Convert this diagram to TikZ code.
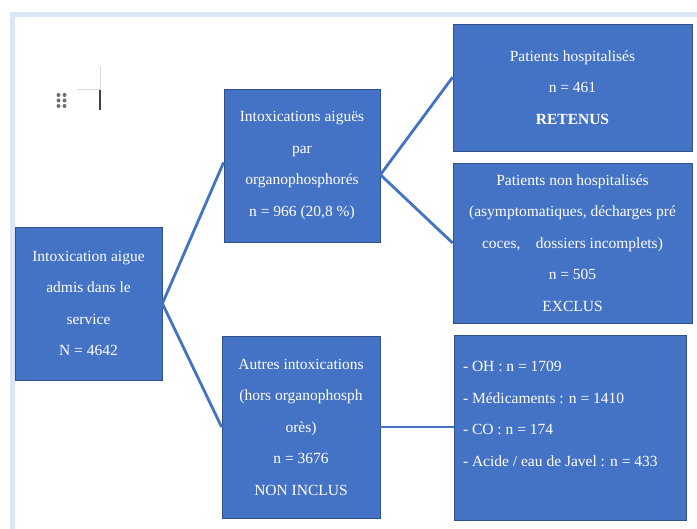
\documentclass[tikz,border=0pt]{standalone}
\usepackage{fontspec}
\setmainfont{Liberation Serif}
\usepackage{xcolor}
\usepackage{tikz}
\usetikzlibrary{positioning, calc}
\definecolor{boxfill}{HTML}{4472C4}
\definecolor{boxline}{HTML}{2F528F}
\definecolor{framebg}{HTML}{DAE5F7}
\definecolor{handle}{HTML}{6E6E6E}
\tikzset{
  flow box/.style={
    draw=boxline,
    line width=0.8pt,
    fill=boxfill,
    text=white,
    font=\fontsize{15.5}{31.5}\selectfont,
    align=center,
    inner sep=0pt
  },
  flow link/.style={
    line width=2.8pt,
    color=boxfill
  }
}

\begin{document}
\begin{tikzpicture}[x=1pt, y=-1pt]
  \useasboundingbox (0,0) rectangle (697,529);
  \fill[white] (0,0) rectangle (697,529);

  % Frame
  \fill[framebg] (10,12) rectangle (697,17);
  \fill[framebg] (10,12) rectangle (15,529);

  % Handle
  \foreach \i in {0,1} {
    \foreach \j in {0,1,2} {
      \fill[handle] (58.5+6*\i, 95+5.5*\j) circle (2pt);
    }
  }
  \draw[black!15, line width=1pt] (77,90) -- (100,90);
  \draw[black!15, line width=1pt] (100,67) -- (100,90);
  \draw[black!75, line width=1.6pt] (100,90) -- (100,110);

  % Boxes
  \node[flow box, minimum width=147pt, minimum height=153pt] (root) at (88.5,303.5)
    {Intoxication aigue\\admis dans le\\service\\N = 4642};
  \node[flow box, minimum width=156pt, minimum height=153pt] (orgphos) at (302,165.5)
    {Intoxications aiguës\\par\\organophosphorés\\n = 966 (20,8 \%)};
  \node[flow box, minimum width=158pt, minimum height=182pt] (autres) at (301,427)
    {Autres intoxications\\(hors organophosph\\orès)\\n = 3676\\NON INCLUS};
  \node[flow box, minimum width=239pt, minimum height=127pt] (hosp) at (572.5,87.5)
    {Patients hospitalisés\\n = 461\\\textbf{RETENUS}};
  \node[flow box, minimum width=239pt, minimum height=160pt] (nonhosp) at (572.5,243)
    {Patients non hospitalisés\\(asymptomatiques, décharges pré\\coces,\quad dossiers incomplets)\\n = 505\\EXCLUS};
  \node[flow box, minimum width=232pt, minimum height=185pt, align=flush left, text width=214pt] (liste) at (570,427.5)
    {- OH : n = 1709\\- Médicaments : n = 1410\\- CO : n = 174\\- Acide / eau de Javel : n = 433\\[-14pt]\strut};

  % Links
  \draw[flow link] (root.east) -- ($(orgphos.north west)!0.48!(orgphos.south west)$);
  \draw[flow link] (root.east) -- (autres.west);
  \draw[flow link] ($(orgphos.north east)!0.56!(orgphos.south east)$) -- ($(hosp.north west)!0.42!(hosp.south west)$);
  \draw[flow link] ($(orgphos.north east)!0.56!(orgphos.south east)$) -- (nonhosp.west);
  \draw[flow link] (autres.east) -- (autres.east -| liste.west);
\end{tikzpicture}
\end{document}
